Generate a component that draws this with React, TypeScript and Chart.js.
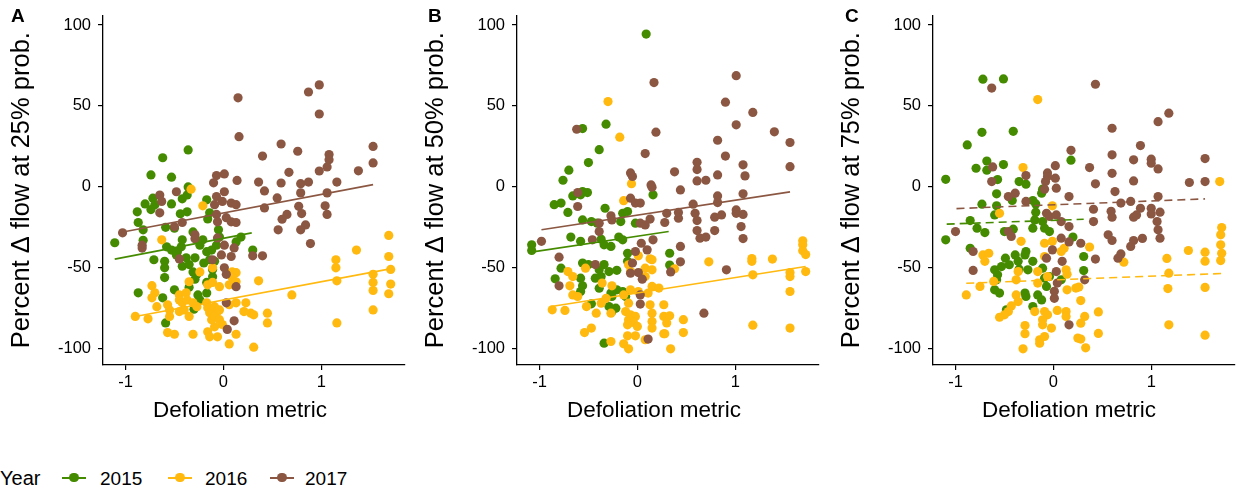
import React, { useEffect, useRef } from "react";
import { Chart, registerables } from "chart.js";

Chart.register(...registerables);

const years = ["2015", "2016", "2017"];
const colors = ["#458B00", "#FFB90F", "#8B5742"];
const xTicks = [-1, 0, 1];
const yTicks = [-100, -50, 0, 50, 100];
const panelLetters = ["A", "B", "C"];
const yTitles = ["Percent Δ flow at 25% prob.", "Percent Δ flow at 50% prob.", "Percent Δ flow at 75% prob."];
const xTitle = "Defoliation metric";
const legendTitle = "Year";

// Panel A (25%)
const a2015 = [[-0.36,22.8],[-0.62,18],[-0.74,7.4],[-0.53,6],[-1.11,-34.5],[-0.87,-22],[-0.8,-10.5],[-0.88,-15.4],[-0.72,-7],[-0.7,-11],[-0.74,-14],[-0.53,-10.5],[-0.42,-7.4],[-0.37,-5],[-0.36,0],[-0.44,-16.6],[-0.37,-15.4],[-0.82,-26.5],[-0.59,-25],[-0.5,-25.5],[-0.31,-27.8],[-0.17,-8],[-0.16,-19.8],[-0.14,-16],[-0.05,-26.5],[-0.82,-33],[-0.58,-37],[-0.53,-39],[-0.47,-40],[-0.43,-37],[-0.42,-32.7],[-0.48,-42],[-0.38,-43.8],[-0.29,-43.8],[-0.21,-32.7],[-0.17,-40],[-0.12,-39],[-0.14,-45],[-0.09,-46],[-0.71,-45],[-0.6,-46],[-0.6,-50],[-0.42,-49],[-0.35,-48],[-0.31,-52.5],[-0.27,-54],[-0.11,-55.5],[-0.6,-56],[-0.29,-57],[-0.17,-59],[-0.11,-51],[-0.35,-62],[-0.5,-63.6],[-0.17,-65.5],[-0.26,-66.7],[-0.87,-65.4],[-0.62,-68.5],[-0.24,-69.8],[-0.3,-75.5],[-0.59,-84],[0.13,-34],[0.18,-31],[-0.04,-31],[0.3,-39],[-0.24,-36],[-0.07,-36],[-0.2,-47]];
const a2016 = [[1.69,-30],[1.36,-39],[1.15,-45],[1.15,-50],[1.69,-43],[1.71,-51],[1.53,-54],[1.53,-59],[1.53,-64],[1.71,-60],[1.69,-66],[1.53,-76],[1.16,-58],[0.7,-66.7],[0.36,-58],[0.45,-78],[0.45,-84],[1.16,-84],[0.31,-99],[0.28,-78],[0.31,-79],[-0.33,-1.4],[-0.21,-11.7],[-0.63,-32.7],[-0.24,-52.5],[-0.11,-50],[-0.35,-58.6],[-0.73,-61],[-0.7,-65.4],[-0.73,-68.5],[-0.16,-60.5],[-0.11,-59],[-0.04,-61.6],[0.06,-60.5],[0.09,-52.5],[0.13,-53],[0.09,-56],[0.13,-58.6],[-0.45,-66.7],[-0.38,-65.4],[-0.45,-69.8],[-0.68,-74],[-0.57,-72.8],[-0.55,-76],[-0.42,-71.6],[-0.37,-69.8],[-0.31,-71.6],[-0.27,-74],[-0.45,-77],[-0.4,-76],[-0.35,-80],[-0.17,-71.6],[-0.16,-74.7],[-0.14,-77.8],[-0.12,-82],[-0.09,-74],[-0.06,-77],[-0.09,-80],[-0.04,-82],[-0.01,-85],[-0.09,-86.4],[-0.16,-89.5],[-0.14,-92.6],[-0.06,-92.6],[-0.04,-76],[0.06,-72.8],[0.13,-71.6],[0.23,-71.6],[0.21,-77],[0.13,-91],[0.06,-97],[-0.57,-90],[-0.5,-91],[-0.31,-91],[-0.9,-80],[-0.77,-81.5],[-0.55,-80]];
const a2017 = [[0.15,55],[0.16,31],[-0.07,7],[0.01,8],[-0.1,2.5],[0.14,4],[0.87,58.6],[0.98,63],[0.98,45],[0.59,26.5],[0.4,19],[0.76,22],[1.08,20],[1.08,16.7],[1.06,12.3],[0.98,9.8],[0.67,9],[1.38,9.9],[1.53,25],[1.53,14.8],[0.36,3],[0.59,2.4],[0.79,2],[0.87,3],[1.16,3],[0.42,-2.5],[0.79,-3.7],[0.55,-6.8],[1.06,-3.7],[0.42,-13],[0.77,-12],[0.8,-16.5],[0.65,-17],[1.04,-11.7],[1.06,-17],[0.6,-20],[0.56,-26.5],[0.84,-23.5],[0.79,-26.5],[0.89,-35],[0.3,-42.6],[0.4,-42.6],[-0.48,-3],[-0.65,-5],[-0.63,-9],[0.01,-3],[-0.07,-6],[-0.01,-9],[0.08,-10],[0.13,-11],[-0.09,-11],[-0.65,-16],[-0.42,-22],[-0.5,-24.6],[-0.07,-17],[0.03,-19],[0.08,-21.6],[0.13,-22],[-0.06,-21.6],[-0.29,-29.6],[-0.29,-32],[-0.06,-31.5],[0.01,-36],[0.11,-37.7],[0.08,-43],[-0.02,-42],[-0.11,-45],[-0.45,-44.5],[-1.03,-28.4],[-0.83,-36],[-0.83,-37.8],[0.01,-50],[0.03,-54],[0.13,-61.6],[0.03,-71.6],[0.11,-82.7],[0.04,-88]];
const fitA2015 = [[-1.11,-44.6],[0.29,-28.4]];
const fitA2016 = [[-0.9,-80],[1.69,-50.8]];
const fitA2017 = [[-1.04,-28],[1.53,1.4]];

// Panel B (50%)
const b2015 = [[0.09,94.4],[-0.32,38.7],[-0.56,36],[-0.39,23],[-0.5,15],[-0.7,10.3],[-0.76,4.1],[-0.66,-5.6],[-0.56,-2.9],[-0.51,-3.5],[-0.58,-4.9],[-0.85,-11],[-0.78,-10],[-0.71,-15.8],[-0.33,-13.2],[-0.56,-20.4],[-0.47,-21.4],[-0.41,-22.4],[-0.15,-16.3],[-0.1,-15.2],[-0.17,-21.4],[-0.02,-22.4],[0.16,-4.9],[-1.08,-35.8],[-1.08,-39.3],[-0.68,-31],[-0.58,-33.6],[-0.37,-32.3],[-0.34,-35.8],[-0.27,-36.8],[-0.19,-31],[-0.15,-32.7],[-0.1,-41],[-0.78,-50.2],[-0.56,-47],[-0.5,-48],[-0.39,-51.2],[-0.34,-48],[-0.29,-52.3],[-0.21,-51.5],[-0.43,-56.4],[-0.37,-55.4],[-0.58,-56.4],[-0.84,-56.8],[-0.56,-61.1],[-0.39,-62.6],[-0.58,-64.6],[-0.21,-63.6],[-0.15,-64.6],[-0.27,-65.6],[-0.26,-67.7],[-0.47,-72.2],[-0.29,-73.9],[-0.22,-74.9],[-0.26,-77],[-0.12,-67.7],[-0.34,-96.5],[-0.1,-46],[0.33,-41],[0.33,-48.3]];
const b2016 = [[-0.3,52.7],[-0.18,30.7],[-0.06,2],[-0.14,-8.5],[0.01,-42.6],[0.13,-44.4],[-0.53,-50.2],[-0.71,-52.3],[-0.66,-55.4],[-0.09,-48.1],[-0.07,-52.3],[0.08,-50.2],[0.15,-51.2],[0.08,-55.4],[-0.69,-61.1],[-0.36,-59.4],[-0.26,-61.1],[-0.66,-66.7],[-0.61,-67.7],[-0.32,-68.8],[-0.52,-73.9],[-0.42,-78],[-0.37,-71.8],[-0.14,-66.7],[-0.09,-71.8],[-0.07,-63.6],[0.01,-64.6],[0.11,-65.6],[0.15,-61.5],[0.22,-62.5],[0.13,-72.8],[0.15,-78],[0.15,-83.1],[0.27,-72.8],[0.27,-80],[0.15,-87.2],[0.27,-90.7],[-0.12,-77],[-0.07,-79],[-0.02,-80],[-0.09,-82.1],[-0.04,-83.7],[-0.1,-85.2],[0,-86.2],[-0.27,-78],[-0.47,-87.2],[-0.54,-90],[-0.1,-92],[-0.02,-92],[0.08,-94.4],[-0.27,-95.5],[-0.14,-96.9],[-0.09,-100],[-0.87,-75.9],[-0.74,-76.3],[0.15,-45],[0.38,-50.6],[0.73,-46.3],[1.17,-44.3],[1.17,-46],[1.38,-44.6],[1.18,-54.3],[1.69,-33.3],[1.69,-35.8],[1.69,-39.5],[1.72,-41.8],[1.72,-52.3],[1.56,-52.9],[1.56,-55.4],[1.56,-64.6],[0.33,-79.6],[0.3,-84],[0.47,-82],[0.47,-90],[0.28,-90.7],[0.34,-100],[1.18,-85.4],[1.56,-87.2]];
const b2017 = [[-0.62,35.6],[0.17,64.4],[0.19,33.8],[0.08,20.6],[-0.07,8.6],[-0.05,6.4],[0.14,1.2],[1.01,68.7],[0.9,52.3],[1.18,46],[1.01,38.3],[1.4,34],[1.56,27.4],[0.82,28.8],[0.9,19],[0.61,15.2],[0.61,10.7],[0.38,9.3],[1.08,13.6],[1.56,12.5],[0.82,7.4],[1.1,6.8],[0.61,3.7],[0.7,4.1],[0.44,-1.9],[0.82,-5.6],[0.82,-9.7],[1.08,-4.3],[0.57,-10.7],[0.42,-15.8],[0.42,-19.3],[0.3,-16.3],[0.28,-22],[0.59,-16.3],[0.61,-20.8],[0.79,-18.7],[0.86,-17.3],[1.01,-14.2],[1.01,-16.3],[1.08,-17],[1.06,-24.5],[0.61,-27],[0.64,-31.7],[0.7,-31],[0.79,-27],[1.08,-31.9],[0.44,-36.8],[0.44,-46.3],[0.34,-52.5],[0.91,-51.2],[0.68,-78],[-0.61,-3.5],[-0.61,-12.1],[-0.07,-7],[-0.02,-10],[0.03,-10],[0.15,-0.2],[-0.27,-17.9],[-0.26,-20.4],[-0.39,-22.4],[-0.39,-27.6],[0.03,-22.4],[0.08,-23.5],[0.13,-19.9],[-0.98,-33.6],[-0.46,-32.7],[0.04,-34.8],[0.16,-32.7],[0.1,-38.9],[-0.02,-39.9],[-0.8,-43.4],[-0.43,-48],[-0.05,-47],[0.01,-52.9],[0.05,-57],[-0.07,-53.3],[-0.8,-61.1],[0.03,-66.7],[0.03,-72.4],[0.11,-94]];
const fitB2015 = [[-1.05,-40],[0.32,-27.6]];
const fitB2016 = [[-0.88,-73.9],[1.72,-49.2]];
const fitB2017 = [[-0.98,-26.5],[1.56,-3.1]];

// Panel C (75%)
const c2015 = [[-0.72,66.5],[-0.51,66.7],[-0.73,33.7],[-0.41,34.3],[-0.88,25.9],[0.18,16.5],[-0.68,16],[-0.51,13.8],[-0.79,11.5],[-0.68,10.3],[-1.1,4.7],[-0.57,4.5],[-0.35,3.3],[-0.28,1.7],[-0.12,-3.9],[-0.11,-1.4],[-0.58,-4.3],[-0.73,-10.7],[-0.58,-11.7],[-0.42,-8.4],[-0.21,-8.4],[-0.18,-10.5],[-0.6,-17.3],[-0.18,-15.6],[-0.19,-20.4],[-0.11,-21.4],[-0.85,-20.8],[-0.78,-25.5],[-0.7,-28.2],[-0.5,-27.6],[-0.41,-26.1],[-0.21,-25.5],[-0.09,-25.5],[-0.04,-27.6],[-1.1,-32.7],[-0.85,-37.9],[-0.28,-39.9],[-0.29,-42],[-0.39,-42],[-0.49,-44],[-0.36,-46],[-0.21,-46],[-0.6,-51.2],[-0.57,-54.3],[-0.53,-49.2],[-0.45,-48.1],[-0.35,-50.8],[-0.26,-51.2],[-0.11,-50.2],[-0.04,-55.4],[-0.09,-56.4],[-0.58,-57.4],[-0.6,-63.6],[-0.55,-65.6],[-0.29,-65.6],[-0.28,-67.7],[-0.16,-66.7],[-0.12,-69.8],[-0.21,-73.9],[-0.48,-75.9],[-0.07,-61.5],[0.08,-57.4],[0.2,-31],[0.31,-43],[0.31,-51.7]];
const c2016 = [[-0.16,53.9],[-0.31,11.9],[1.7,3.3],[-0.01,-11.7],[-0.55,-16.3],[-0.33,-33.6],[-0.09,-34.8],[-0.01,-33.6],[0.11,-37.9],[0.08,-39.9],[-0.72,-42],[-0.66,-41],[-0.7,-46],[-0.09,-43],[-0.36,-52.3],[-0.38,-57.4],[-0.16,-52.3],[-0.06,-55.4],[0.13,-51.2],[0.14,-53.9],[0.23,-62.5],[0.14,-63.6],[-0.75,-61.5],[-0.89,-66.7],[-0.61,-58.4],[-0.38,-66.7],[-0.36,-70.8],[-0.43,-73.5],[-0.46,-77],[-0.5,-79],[-0.55,-80.5],[-0.19,-77],[-0.09,-77],[-0.06,-79],[-0.11,-82.1],[-0.11,-85.2],[-0.02,-87.2],[0.04,-76.3],[0.13,-77],[0.13,-80],[-0.29,-85.6],[-0.29,-90.7],[-0.14,-94.4],[-0.09,-92.4],[-0.14,-96.5],[-0.31,-100],[0.25,-93.4],[-0.16,-59.4],[0.37,-37.2],[0.72,-46.5],[1.16,-44.2],[1.18,-53.3],[1.38,-39.3],[1.55,-40.3],[1.55,-45.9],[1.72,-25.1],[1.71,-29.6],[1.71,-35.8],[1.72,-41],[1.71,-45.5],[1.17,-62.8],[1.55,-62.1],[0.28,-70.2],[0.46,-77.2],[0.32,-80],[0.28,-84.2],[1.18,-85.2],[0.46,-90.5],[0.28,-94],[0.33,-99.4],[1.55,-91.6],[0.26,-61.9]];
const c2017 = [[-0.63,61],[0.18,22.6],[-0.62,12.3],[0.02,13.1],[-0.28,7],[-0.06,8.6],[-0.06,6.4],[0.02,5.4],[-0.63,3.3],[-0.08,3.3],[0.43,63.4],[1.18,45.5],[1.07,40.3],[0.6,36.2],[0.89,25.5],[0.6,19.8],[0.82,16.7],[1,17.1],[1,14.6],[1.07,11.1],[0.37,11.9],[0.6,8.4],[1.55,17.5],[0.82,3.7],[0.43,1.9],[1.39,2.7],[1.55,3.3],[0.63,-2.9],[0.79,-9],[0.69,-10],[0.89,-13.2],[1.07,-6],[0.41,-13.8],[0.41,-21.4],[0.59,-15.1],[0.6,-18.7],[0.82,-18.7],[0.85,-17.3],[1,-13.2],[1,-16.7],[1.09,-15.6],[1.06,-21.4],[1.07,-26.5],[1.09,-31.7],[0.56,-29.6],[0.6,-33.1],[0.82,-33.1],[0.79,-36.8],[0.91,-31.8],[0.69,-41.4],[0.66,-44],[0.43,-44.6],[0.32,-57.4],[0.28,-34.8],[-0.46,-6],[-0.39,-3.9],[-0.28,-9],[-0.09,-1.4],[0.03,-0.8],[0.16,-6],[-0.07,-16.3],[-0.04,-18.3],[0.03,-17.3],[0.08,-21.4],[0.16,-24.5],[0.08,-31.7],[0.16,-34],[-1,-27.6],[-0.46,-27.6],[-0.43,-30.6],[-0.82,-39.9],[-0.07,-44],[-0.01,-38.9],[0.09,-46],[-0.82,-51.6],[0.03,-52.3],[0.04,-59.4],[0.01,-64.5],[0.01,-68.8],[0.16,-85.2]];
const fitC2015 = [[-1.09,-23],[0.31,-20]];
const fitC2016 = [[-0.89,-59.5],[1.72,-53.5]];
const fitC2017 = [[-0.99,-13.4],[1.55,-7.4]];

const FONT = '"Liberation Sans", Arial, Helvetica, sans-serif';

type Pts = number[][];

function Panel(props: { left: number; series: Pts[]; fits: Pts[]; yTitle: string; dashed: boolean }) {
  const ref = useRef<HTMLCanvasElement>(null);
  useEffect(() => {
    const datasets: any[] = [];
    props.fits.forEach((f, i) => {
      datasets.push({
        type: "line",
        label: years[i] + " fit",
        data: f.map(([x, y]) => ({ x, y })),
        borderColor: colors[i],
        borderWidth: 1.6,
        borderDash: props.dashed ? [8, 5] : [],
        pointRadius: 0,
        fill: false,
        showLine: true,
        order: 0,
      });
    });
    props.series.forEach((s, i) => {
      datasets.push({
        type: "scatter",
        label: years[i],
        data: s.map(([x, y]) => ({ x, y })),
        backgroundColor: colors[i],
        borderWidth: 0,
        pointRadius: 4.6,
        pointHoverRadius: 4.6,
        order: 3 - i,
      });
    });
    const chart = new Chart(ref.current as HTMLCanvasElement, {
      type: "scatter",
      data: { datasets },
      options: {
        animation: false,
        responsive: false,
        events: [],
        plugins: { legend: { display: false }, tooltip: { enabled: false } },
        layout: { padding: { top: 15, right: 3, left: 0, bottom: 0 } },
        scales: {
          x: {
            type: "linear",
            min: -1.23,
            max: 1.85,
            afterBuildTicks: (s: any) => {
              s.ticks = xTicks.map((v) => ({ value: v }));
            },
            afterFit: (s: any) => {
              s.height = 60;
            },
            ticks: { color: "#000", font: { family: FONT, size: 16.5, lineHeight: 1 }, padding: 4, callback: (v: any) => String(v) },
            grid: { display: true, drawOnChartArea: false, drawTicks: true, tickLength: 5, color: "#000", lineWidth: 1.2 },
            border: { display: true, color: "#000", width: 1.3 },
            title: { display: false },
          },
          y: {
            type: "linear",
            min: -110,
            max: 106,
            afterBuildTicks: (s: any) => {
              s.ticks = yTicks.map((v) => ({ value: v }));
            },
            afterFit: (s: any) => {
              s.width = 103;
            },
            ticks: { color: "#000", font: { family: FONT, size: 16.5, lineHeight: 1 }, padding: 7, callback: (v: any) => String(v) },
            grid: { display: true, drawOnChartArea: false, drawTicks: true, tickLength: 5, color: "#000", lineWidth: 1.2 },
            border: { display: true, color: "#000", width: 1.3 },
            title: { display: true, text: props.yTitle, color: "#000", font: { family: FONT, size: 25.5, lineHeight: 1 }, padding: { top: 9, bottom: 0 } },
          },
        },
      },
    } as any);
    return () => chart.destroy();
  }, []);
  return (
    <canvas
      ref={ref}
      width={409}
      height={425}
      style={{ position: "absolute", left: props.left, top: 0, width: 409, height: 425 }}
    />
  );
}

const panelLefts = [0, 414, 830];
const letterLefts = [11, 428, 845];
const xTitleCenters = [240, 654, 1069];
const legendGlyphLefts = [62, 168, 270];
const legendTextLefts = [100, 205, 305];

export default function App() {
  const panels = [
    { series: [a2015, a2016, a2017], fits: [fitA2015, fitA2016, fitA2017], dashed: false },
    { series: [b2015, b2016, b2017], fits: [fitB2015, fitB2016, fitB2017], dashed: false },
    { series: [c2015, c2016, c2017], fits: [fitC2015, fitC2016, fitC2017], dashed: true },
  ];
  return (
    <div
      style={{
        position: "fixed",
        left: 0,
        top: 0,
        width: 1239,
        height: 492,
        overflow: "hidden",
        background: "#fff",
        fontFamily: FONT,
        color: "#000",
      }}
    >
      {panels.map((p, i) => (
        <Panel key={i} left={panelLefts[i]} series={p.series} fits={p.fits} yTitle={yTitles[i]} dashed={p.dashed} />
      ))}
      {panelLetters.map((l, i) => (
        <div
          key={l}
          style={{ position: "absolute", left: letterLefts[i], top: 6, fontSize: 19, lineHeight: "19px", fontWeight: "bold" }}
        >
          {l}
        </div>
      ))}
      {xTitleCenters.map((c, i) => (
        <div
          key={"xt" + i}
          style={{
            position: "absolute",
            left: c - 150,
            width: 300,
            top: 399,
            textAlign: "center",
            fontSize: 22.5,
            lineHeight: "22.5px",
            whiteSpace: "nowrap",
          }}
        >
          {xTitle}
        </div>
      ))}
      <div style={{ position: "absolute", left: 0, top: 468, fontSize: 20, lineHeight: "20px" }}>{legendTitle}</div>
      {years.map((y, i) => (
        <React.Fragment key={y}>
          <div
            style={{
              position: "absolute",
              left: legendGlyphLefts[i],
              top: 477,
              width: 24,
              height: 1.6,
              background: colors[i],
            }}
          />
          <div
            style={{
              position: "absolute",
              left: legendGlyphLefts[i] + 12 - 4.6,
              top: 477.8 - 4.6,
              width: 9.2,
              height: 9.2,
              borderRadius: "50%",
              background: colors[i],
            }}
          />
          <div style={{ position: "absolute", left: legendTextLefts[i], top: 469, fontSize: 19, lineHeight: "19px" }}>{y}</div>
        </React.Fragment>
      ))}
    </div>
  );
}
